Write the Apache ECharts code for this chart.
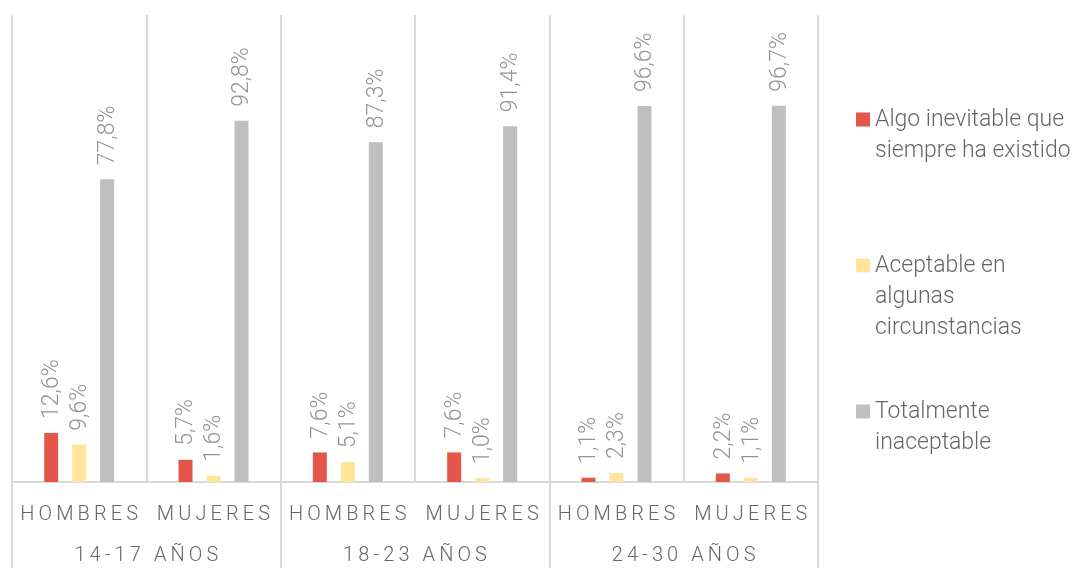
<!DOCTYPE html>
<html>
<head>
<meta charset="utf-8">
<script src="https://cdn.jsdelivr.net/npm/echarts@6/dist/echarts.min.js"></script>
<style>
  html, body { margin: 0; padding: 0; background: #fff; }
  #chart { width: 1083px; height: 568px; }
</style>
</head>
<body>
<div id="chart"></div>
<script>
// categories: sex within each age band
const categories = ["HOMBRES", "MUJERES", "HOMBRES", "MUJERES", "HOMBRES", "MUJERES"];
const ageGroups = ["14-17 AÑOS", "18-23 AÑOS", "24-30 AÑOS"];

const seriesNames = [
  "Algo inevitable que siempre ha existido",
  "Aceptable en algunas circunstancias",
  "Totalmente inaceptable",
];
// legend lines as wrapped in the picture
const legendLines = [
  ["Algo inevitable que", "siempre ha existido"],
  ["Aceptable en", "algunas", "circunstancias"],
  ["Totalmente", "inaceptable"],
];

const inevitable = [12.6, 5.7, 7.6, 7.6, 1.1, 2.2];
const aceptable = [9.6, 1.6, 5.1, 1.0, 2.3, 1.1];
const inaceptable = [77.8, 92.8, 87.3, 91.4, 96.6, 96.7];

const colors = ["#E4564A", "#FFE49A", "#BFBFBF"];
const lineColor = "#D9D9D9";
const textColor = "#666666";
const FONT = "'Roboto Light', Roboto, sans-serif";

// spread letters out, the picture uses wide tracking (thin spaces)
const spaced = s => s.split("").join("\u2009");
const pct = v => v.toFixed(1).replace(".", ",") + "%";

const chart = echarts.init(document.getElementById("chart"), null, { renderer: "canvas" });

function barSeries(name, data, color) {
  return {
    name,
    type: "bar",
    data,
    barWidth: 14,
    barGap: "100%",
    itemStyle: { color },
    label: {
      show: true,
      position: "top",
      rotate: 90,
      align: "left",
      verticalAlign: "middle",
      distance: 14,
      formatter: p => pct(p.value),
      fontFamily: FONT,
      fontWeight: 300,
      fontSize: 23,
      color: "#939393",
    },
  };
}

chart.setOption({
  animation: false,
  textStyle: { fontFamily: FONT, fontWeight: 300 },
  grid: { left: 12, right: 265, top: 15, bottom: 86, containLabel: false },
  legend: {
    orient: "vertical",
    left: 851,
    top: 68,
    itemWidth: 14,
    itemHeight: 14,
    itemGap: 22,
    icon: "rect",
    data: seriesNames,
    formatter: name => {
      const lines = legendLines[seriesNames.indexOf(name)];
      // pad with blank lines above so the marker sits beside the first line
      return "\n".repeat(lines.length - 1) + lines.join("\n");
    },
    textStyle: {
      fontFamily: FONT,
      fontWeight: 300,
      fontSize: 23,
      lineHeight: 31,
      color: textColor,
    },
  },
  xAxis: [
    {
      type: "category",
      data: categories,
      position: "bottom",
      axisLine: { show: true, lineStyle: { color: lineColor, width: 2 } },
      axisTick: { show: false },
      splitLine: { show: true, lineStyle: { color: lineColor, width: 2 } },
      axisLabel: {
        margin: 22,
        interval: 0,
        formatter: spaced,
        fontFamily: FONT,
        fontWeight: 300,
        fontSize: 20,
        color: textColor,
      },
    },
    {
      type: "category",
      data: ageGroups,
      position: "bottom",
      axisLine: { show: false },
      axisTick: { show: true, length: 90, lineStyle: { color: lineColor, width: 2 } },
      splitLine: { show: false },
      axisLabel: {
        margin: 63,
        interval: 0,
        formatter: spaced,
        fontFamily: FONT,
        fontWeight: 300,
        fontSize: 20,
        color: textColor,
      },
    },
  ],
  yAxis: {
    type: "value",
    min: 0,
    max: 120,
    show: false,
  },
  series: [
    barSeries(seriesNames[0], inevitable, colors[0]),
    barSeries(seriesNames[1], aceptable, colors[1]),
    barSeries(seriesNames[2], inaceptable, colors[2]),
  ],
});
</script>
</body>
</html>
